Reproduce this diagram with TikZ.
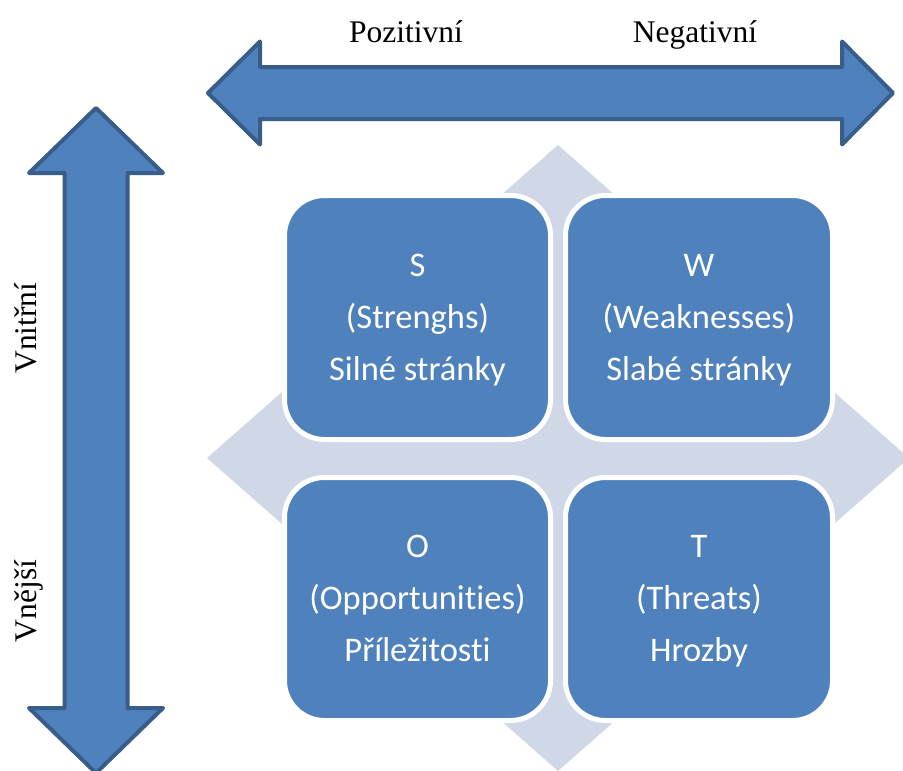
\documentclass[tikz,border=0pt]{standalone}
\usepackage{fontspec}
\setmainfont{Liberation Serif}
\newfontfamily\boxfont[Ligatures={NoCommon,NoContextual}]{Carlito}
\definecolor{accent}{HTML}{4F81BD}
\definecolor{accentdark}{HTML}{385D8A}
\definecolor{pale}{HTML}{D0D8E8}
\tikzset{
  bigarrow/.style={fill=accent, draw=accentdark, line width=4pt, line join=round},
  quadbox/.style={fill=accent, draw=white, line width=5pt, rounded corners=40pt},
  boxtext/.style={text=white, align=center, anchor=base, font=\boxfont\fontsize{34.5}{52}\selectfont},
  axislabel/.style={font=\fontsize{31.5}{36}\selectfont, inner sep=0pt}
}
\begin{document}
\begin{tikzpicture}[x=1pt,y=-1pt]
\useasboundingbox (0,0) rectangle (903,771);
% background quad arrow
\fill[pale] (558,145) -- (633,211) -- (620,211) -- (620,403) -- (834,403) -- (834,392) -- (909,458) -- (834,524) -- (834,513) -- (620,513) -- (620,705) -- (633,705) -- (558,771) -- (483,705) -- (496,705) -- (496,513) -- (282,513) -- (282,524) -- (207,458) -- (282,392) -- (282,403) -- (496,403) -- (496,211) -- (483,211) -- cycle;
% quadrant boxes
\draw[quadbox] (284.5,195.5) rectangle (550.5,439.5);
\draw[quadbox] (565.5,195.5) rectangle (832.5,439.5);
\draw[quadbox] (284.5,477.5) rectangle (550.5,720.5);
\draw[quadbox] (565.5,477.5) rectangle (832.5,720.5);
% (anchor=base is the baseline of the last line)
\node[boxtext] (s) at (417.5,380) {S\\(Strenghs)\\Silné stránky};
\node[boxtext] (w) at (699,380) {W\\(Weaknesses)\\Slabé stránky};
\node[boxtext] (o) at (417.5,661.5) {O\\(Opportunities)\\Příležitosti};
\node[boxtext] (t) at (699,661.5) {T\\(Threats)\\Hrozby};
% horizontal double arrow
\draw[bigarrow] (208,93) -- (260,41.5) -- (260,67) -- (842,67) -- (842,41.5) -- (893,93) -- (842,144.5) -- (842,119) -- (260,119) -- (260,144.5) -- cycle;
% vertical double arrow
\draw[bigarrow] (96,108) -- (163,173) -- (127.5,173) -- (127.5,708) -- (163,708) -- (96,773) -- (29,708) -- (64.5,708) -- (64.5,173) -- (29,173) -- cycle;
% labels
\node[axislabel, anchor=base] (poz) at (406,42) {Pozitivní};
\node[axislabel, anchor=base] (neg) at (695,42) {Negativní};
\node[axislabel, anchor=base, rotate=90] (vni) at (36,328) {Vnitřní};
\node[axislabel, anchor=base, rotate=90] (vne) at (36,601) {Vnější};
\end{tikzpicture}
\end{document}
